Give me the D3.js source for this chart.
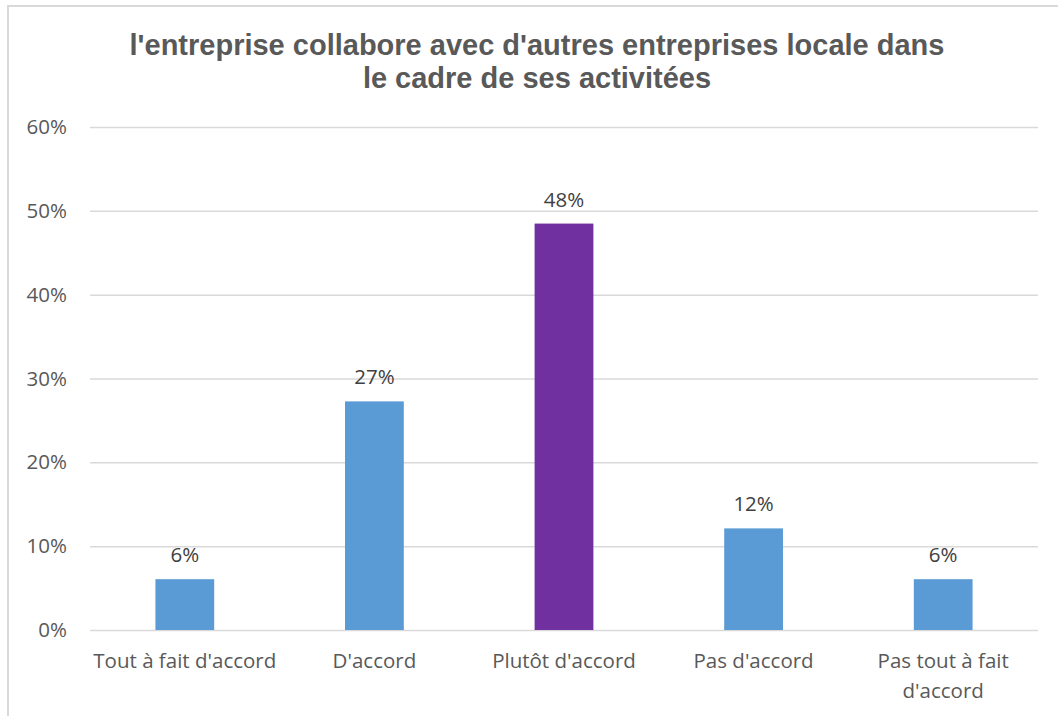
<!DOCTYPE html>
<html><head><meta charset="utf-8">
<script src="https://cdn.jsdelivr.net/npm/d3@7"></script>
<style>body{margin:0;background:#fff}svg{display:block}</style>
</head><body>
<script>
const categories = ["Tout à fait d'accord", "D'accord", "Plutôt d'accord", "Pas d'accord", "Pas tout à fait d'accord"];
const values = [0.0606, 0.2727, 0.4848, 0.1212, 0.0606];
const labels = ["6%", "27%", "48%", "12%", "6%"];
const barColors = ["#5B9BD5", "#5B9BD5", "#7030A0", "#5B9BD5", "#5B9BD5"];
const yTicks = [0, 0.1, 0.2, 0.3, 0.4, 0.5, 0.6];
const titleLines = ["l'entreprise collabore avec d'autres entreprises locale dans", "le cadre de ses activitées"];

(function () {
const W = 1058, H = 716;
const svg = d3.select("body").append("svg").attr("width", W).attr("height", H);

// outer frame
svg.append("rect").attr("x", 8).attr("y", 6).attr("width", W + 10).attr("height", H + 10)
  .attr("fill", "#fff").attr("stroke", "#D9D9D9").attr("stroke-width", 2);

const pLeft = 90, pRight = 1038, pTop = 127, pBottom = 630;
const x = d3.scaleBand().domain(categories).range([pLeft, pRight]).paddingInner(0.69).paddingOuter(0.345);
const y = d3.scaleLinear().domain([0, 0.6]).range([pBottom, pTop]);

const font = "'Open Sans', 'Noto Sans', sans-serif";
const fs = 20.5;

// title
svg.append("text").attr("text-anchor", "middle")
  .attr("font-family", "'Liberation Sans', Arial, sans-serif").attr("font-weight", "bold")
  .attr("font-size", 29).attr("fill", "#595959")
  .selectAll("tspan").data(titleLines).join("tspan")
  .attr("x", 537).attr("y", (d, i) => 55 + i * 33).text(d => d);

// grid + y axis
const yAxis = d3.axisLeft(y).tickValues(yTicks).tickFormat(d3.format(".0%")).tickSize(-(pRight - pLeft)).tickPadding(23);
const gy = svg.append("g").attr("transform", `translate(${pLeft},0)`).call(yAxis);
gy.select(".domain").remove();
gy.selectAll(".tick line").attr("stroke", "#D9D9D9").attr("stroke-width", 1.5);
gy.selectAll(".tick text").attr("font-family", font).attr("font-size", fs).attr("fill", "#595959");

// bars
svg.append("g").selectAll("rect").data(values).join("rect")
  .attr("x", (d, i) => x(categories[i])).attr("width", x.bandwidth())
  .attr("y", d => y(d)).attr("height", d => y(0) - y(d))
  .attr("fill", (d, i) => barColors[i]);

// value labels
svg.append("g").selectAll("text").data(values).join("text")
  .attr("x", (d, i) => x(categories[i]) + x.bandwidth() / 2)
  .attr("y", d => y(d) - 17)
  .attr("text-anchor", "middle").attr("font-family", font).attr("font-size", fs).attr("fill", "#404040")
  .text((d, i) => labels[i]);

// x labels (wrap)
const xg = svg.append("g");
categories.forEach((c, i) => {
  const cx = x(c) + x.bandwidth() / 2;
  const lines = c === "Pas tout à fait d'accord" ? ["Pas tout à fait", "d'accord"] : [c];
  const t = xg.append("text").attr("text-anchor", "middle").attr("font-family", font).attr("font-size", fs).attr("fill", "#595959");
  lines.forEach((l, j) => t.append("tspan").attr("x", cx).attr("y", 668 + j * 30).text(l));
});
})();
</script>
</body></html>
